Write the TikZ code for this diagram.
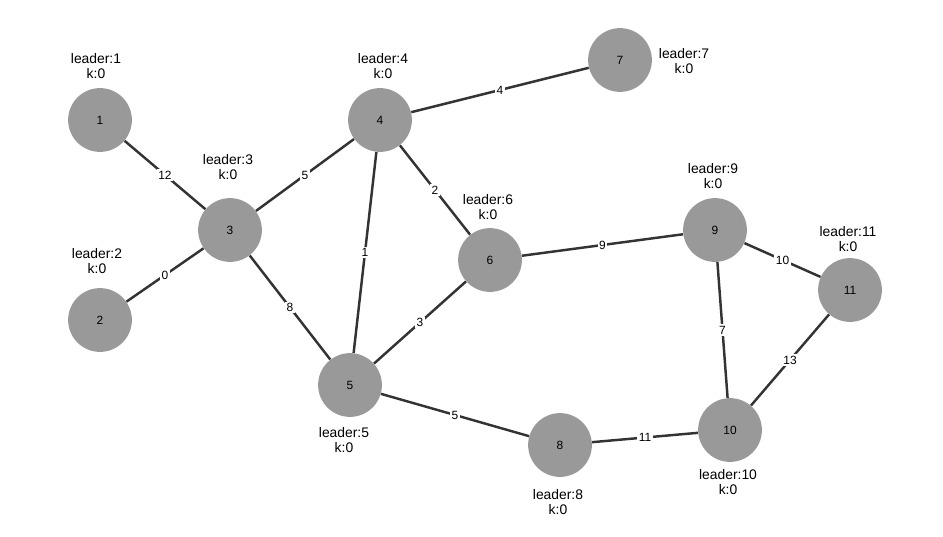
\documentclass[tikz,border=0pt]{standalone}
\usepackage{fontspec}
\setmainfont{Liberation Sans}
\definecolor{nodegray}{HTML}{999999}
\definecolor{edgegray}{HTML}{333333}
\tikzset{
  vertex/.style={circle,fill=nodegray,minimum size=36.3pt,inner sep=0pt,font=\fontsize{6.8}{8}\selectfont},
  info/.style={align=center,font=\fontsize{7.9}{9}\selectfont},
  link/.style={draw=edgegray,line width=1.4pt},
  wt/.style={fill=white,inner sep=0.8pt,font=\fontsize{6.8}{8}\selectfont}
}
\begin{document}
\begin{tikzpicture}[x=0.02cm,y=-0.02cm]
\useasboundingbox (0,0) rectangle (943,537);
\node[vertex] (v1) at (100,120) {1};
\node[vertex] (v2) at (100,320) {2};
\node[vertex] (v3) at (230,230) {3};
\node[vertex] (v4) at (380,120) {4};
\node[vertex] (v5) at (350,385) {5};
\node[vertex] (v6) at (490,260) {6};
\node[vertex] (v7) at (620,60) {7};
\node[vertex] (v8) at (560,445) {8};
\node[vertex] (v9) at (715,230) {9};
\node[vertex] (v10) at (730,430) {10};
\node[vertex] (v11) at (850,290) {11};
% leader labels
\node[info] (l1) at (96,66) {leader:1\\k:0};
\node[info] (l2) at (97,261) {leader:2\\k:0};
\node[info] (l3) at (228,167) {leader:3\\k:0};
\node[info] (l4) at (383,66) {leader:4\\k:0};
\node[info] (l5) at (344,440) {leader:5\\k:0};
\node[info] (l6) at (488,207) {leader:6\\k:0};
\node[info] (l7) at (684,61) {leader:7\\k:0};
\node[info] (l8) at (558,502) {leader:8\\k:0};
\node[info] (l9) at (713,176) {leader:9\\k:0};
\node[info] (l10) at (728,482) {leader:10\\k:0};
\node[info] (l11) at (848,239) {leader:11\\k:0};
% edges
\draw[link] (v1)--(v3) node[wt,midway] (e13) {12};
\draw[link] (v2)--(v3) node[wt,midway] (e23) {0};
\draw[link] (v3)--(v4) node[wt,midway] (e34) {5};
\draw[link] (v3)--(v5) node[wt,midway] (e35) {8};
\draw[link] (v4)--(v5) node[wt,midway] (e45) {1};
\draw[link] (v4)--(v6) node[wt,midway] (e46) {2};
\draw[link] (v4)--(v7) node[wt,midway] (e47) {4};
\draw[link] (v5)--(v6) node[wt,midway] (e56) {3};
\draw[link] (v5)--(v8) node[wt,midway] (e58) {5};
\draw[link] (v6)--(v9) node[wt,midway] (e69) {9};
\draw[link] (v9)--(v11) node[wt,midway] (e911) {10};
\draw[link] (v9)--(v10) node[wt,midway] (e910) {7};
\draw[link] (v10)--(v11) node[wt,midway] (e1011) {13};
\draw[link] (v8)--(v10) node[wt,midway] (e810) {11};
\end{tikzpicture}
\end{document}
